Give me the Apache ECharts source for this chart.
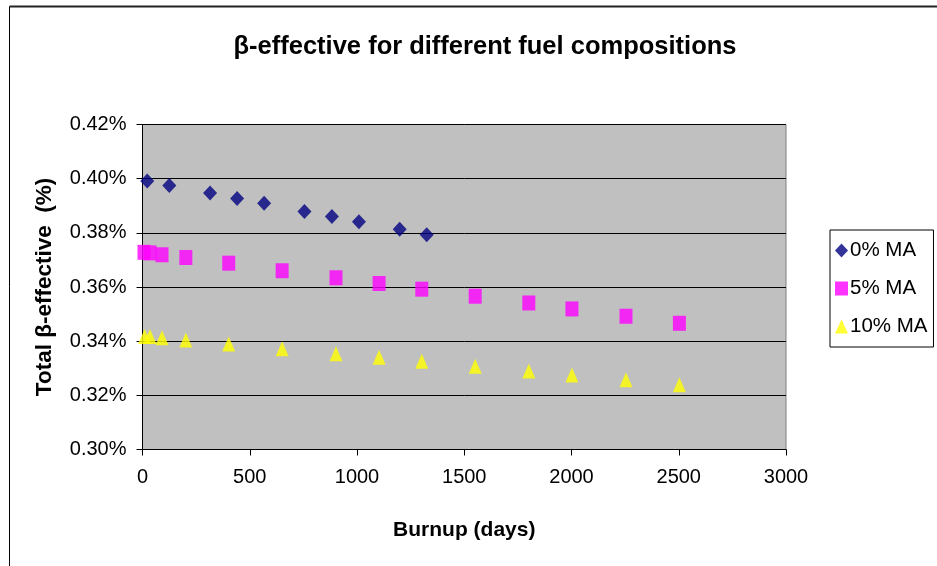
<!DOCTYPE html>
<html>
<head>
<meta charset="utf-8">
<script src="https://cdn.jsdelivr.net/npm/echarts@6/dist/echarts.min.js"></script>
<style>
html,body{margin:0;padding:0;background:#fff;}
#chart{width:937px;height:566px;}
</style>
</head>
<body>
<div id="chart"></div>
<script>
// Data (burnup in days, beta-effective in %)
const ma0Days   = [22, 125, 315, 441, 567, 755, 883, 1009, 1199, 1325];
const ma0Beta   = [0.3991, 0.3975, 0.3947, 0.3927, 0.3909, 0.3879, 0.3860, 0.3841, 0.3813, 0.3793];
const ma5Days   = [7, 35, 91, 202, 402, 651, 902, 1103, 1302, 1551, 1801, 2002, 2254, 2503];
const ma5Beta   = [0.3728, 0.3726, 0.3719, 0.3709, 0.3688, 0.3660, 0.3634, 0.3613, 0.3592, 0.3566, 0.3541, 0.3519, 0.3492, 0.3466];
const ma10Days  = [10, 35, 91, 202, 402, 651, 902, 1103, 1302, 1551, 1801, 2002, 2254, 2503];
const ma10Beta  = [0.3417, 0.3417, 0.3413, 0.3404, 0.3390, 0.3372, 0.3354, 0.3341, 0.3326, 0.3307, 0.3290, 0.3275, 0.3258, 0.3239];
const seriesNames = ['0% MA', '5% MA', '10% MA'];
const xTicks = [0, 500, 1000, 1500, 2000, 2500, 3000];
const yTicks = [0.30, 0.32, 0.34, 0.36, 0.38, 0.40, 0.42];

const pair = (xs, ys) => xs.map((x, i) => [x, ys[i]]);
const FONT = '"Liberation Sans", Arial, sans-serif';

const chart = echarts.init(document.getElementById('chart'));
chart.setOption({
  animation: false,
  backgroundColor: '#ffffff',
  title: {
    text: 'β-effective for different fuel compositions',
    left: 480, top: 29, textAlign: 'center',
    textStyle: { fontFamily: FONT, fontSize: 25.5, fontWeight: 'bold', color: '#000' }
  },
  graphic: [
    { type: 'line', shape: { x1: 9.5, y1: 6.5, x2: 937, y2: 6.5 }, style: { stroke: '#222', lineWidth: 2 }, silent: true },
    { type: 'line', shape: { x1: 9.5, y1: 6.5, x2: 9.5, y2: 566 }, style: { stroke: '#000', lineWidth: 1 }, silent: true }
  ],
  legend: {
    orient: 'vertical',
    left: 830, top: 230,
    width: 105,
    padding: [10, 6, 10, 5],
    itemGap: 17,
    itemWidth: 13, itemHeight: 14,
    borderColor: '#000', borderWidth: 1,
    backgroundColor: '#fff',
    textStyle: { fontFamily: FONT, fontSize: 20.5, color: '#000', padding: [0, 0, 0, -3] },
    data: seriesNames
  },
  grid: {
    left: 142.5, right: 151, top: 124.5, bottom: 116.5,
    show: true, backgroundColor: '#C0C0C0', borderColor: '#808080', borderWidth: 1
  },
  xAxis: {
    type: 'value', min: 0, max: 3000, interval: 500,
    name: 'Burnup (days)', nameLocation: 'middle', nameGap: 70,
    nameTextStyle: { fontFamily: FONT, fontSize: 21, fontWeight: 'bold', color: '#000' },
    axisLine: { show: true, lineStyle: { color: '#000', width: 1 } },
    axisTick: { show: true, length: 6, lineStyle: { color: '#000' } },
    axisLabel: { fontFamily: FONT, fontSize: 20, color: '#000', margin: 18,
      formatter: v => xTicks.includes(v) ? String(v) : '' },
    splitLine: { show: false }
  },
  yAxis: {
    type: 'value', min: 0.30, max: 0.42, interval: 0.02,
    name: 'Total β-effective  (%)', nameLocation: 'middle', nameGap: 86,
    nameTextStyle: { fontFamily: FONT, fontSize: 22.5, fontWeight: 'bold', color: '#000' },
    axisLine: { show: true, lineStyle: { color: '#000', width: 1 } },
    axisTick: { show: true, length: 6, lineStyle: { color: '#000' } },
    axisLabel: { fontFamily: FONT, fontSize: 20, color: '#000', margin: 16,
      formatter: v => {
        const t = yTicks.find(y => Math.abs(y - v) < 1e-9);
        return t !== undefined ? t.toFixed(2) + '%' : '';
      } },
    splitLine: { show: true, lineStyle: { color: '#000', width: 1 } }
  },
  series: [
    { name: seriesNames[0], type: 'scatter', symbol: 'diamond', symbolSize: [14, 15],
      itemStyle: { color: '#000080' }, data: pair(ma0Days, ma0Beta) },
    { name: seriesNames[1], type: 'scatter', symbol: 'rect', symbolSize: [13, 15],
      itemStyle: { color: '#FF00FF' }, data: pair(ma5Days, ma5Beta) },
    { name: seriesNames[2], type: 'scatter', symbol: 'triangle', symbolSize: [13, 15],
      itemStyle: { color: '#FFFF00' }, data: pair(ma10Days, ma10Beta) }
  ]
});
</script>
</body>
</html>
